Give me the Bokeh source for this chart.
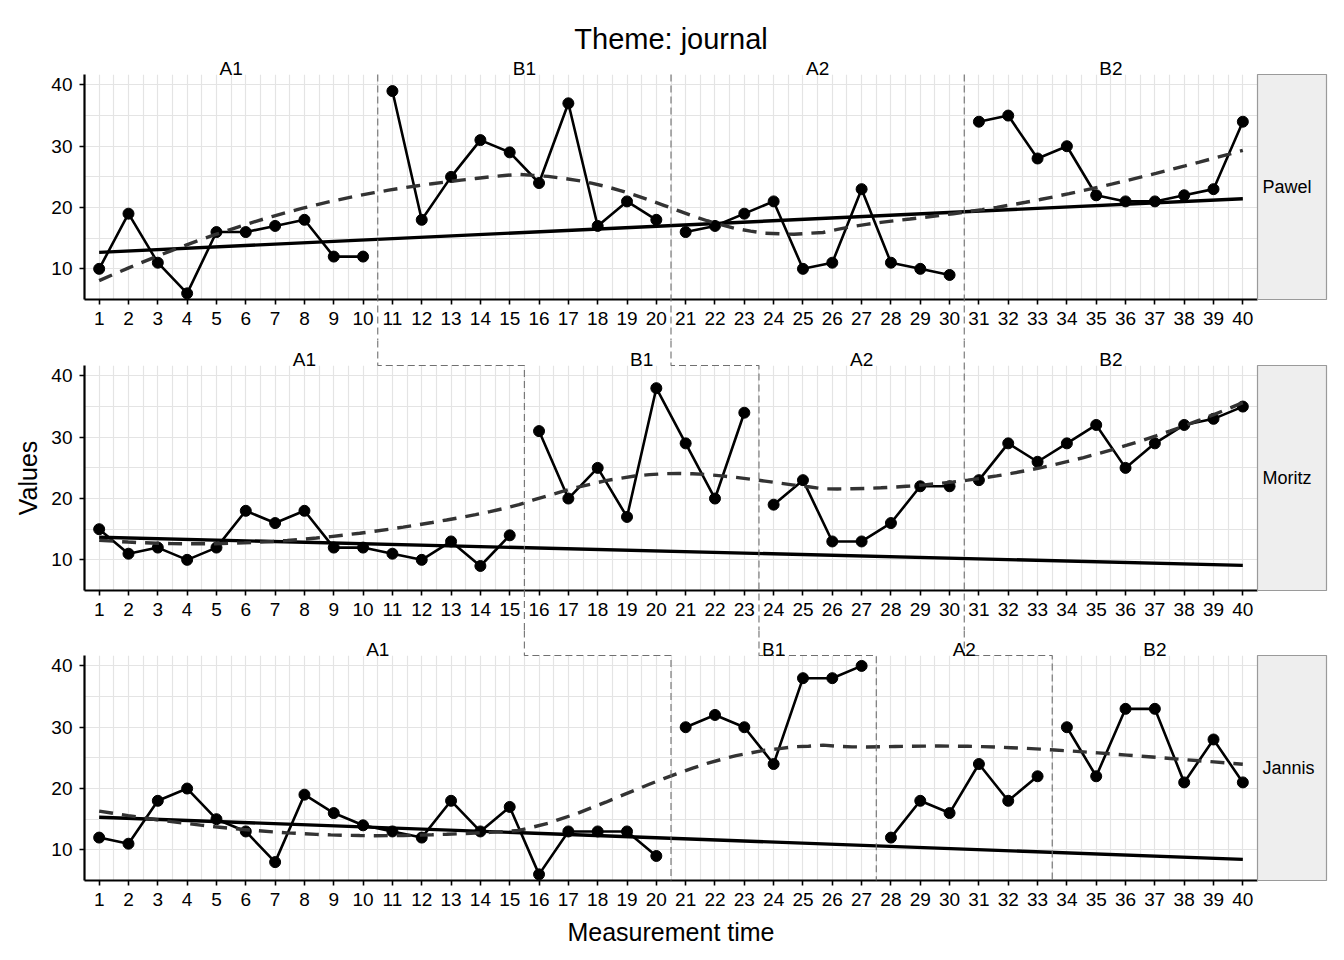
import numpy as np
from bokeh.plotting import figure
from bokeh.models import Range1d, FixedTicker
from bokeh.layouts import column
from bokeh.core.properties import value
from bokeh.embed import file_html
from bokeh.resources import INLINE

# ---------------- data ----------------
measurement_time = [1, 2, 3, 4, 5, 6, 7, 8, 9, 10, 11, 12, 13, 14, 15, 16, 17, 18, 19, 20,
                    21, 22, 23, 24, 25, 26, 27, 28, 29, 30, 31, 32, 33, 34, 35, 36, 37, 38, 39, 40]
pawel = [10, 19, 11, 6, 16, 16, 17, 18, 12, 12, 39, 18, 25, 31, 29, 24, 37, 17, 21, 18,
         16, 17, 19, 21, 10, 11, 23, 11, 10, 9, 34, 35, 28, 30, 22, 21, 21, 22, 23, 34]
moritz = [15, 11, 12, 10, 12, 18, 16, 18, 12, 12, 11, 10, 13, 9, 14, 31, 20, 25, 17, 38,
          29, 20, 34, 19, 23, 13, 13, 16, 22, 22, 23, 29, 26, 29, 32, 25, 29, 32, 33, 35]
jannis = [12, 11, 18, 20, 15, 13, 8, 19, 16, 14, 13, 12, 18, 13, 17, 6, 13, 13, 13, 9,
          30, 32, 30, 24, 38, 38, 40, 12, 18, 16, 24, 18, 22, 30, 22, 33, 33, 21, 28, 21]
case_names = ["Pawel", "Moritz", "Jannis"]
phase_names = ["A1", "B1", "A2", "B2"]
pawel_phase_starts = [1, 11, 21, 31]
moritz_phase_starts = [1, 16, 24, 31]
jannis_phase_starts = [1, 21, 28, 34]
y_ticks = [10, 20, 30, 40]
y_minor = [15, 25, 35]

case_values = [pawel, moritz, jannis]
case_starts = [pawel_phase_starts, moritz_phase_starts, jannis_phase_starts]

# ---------------- geometry / style ----------------
FONT = "Liberation Sans"
W = 1340
BL, BR = 84, 83
FH = 225
TOPS = [74, 25, 25]
BOTTOMS = [41, 40, 72]
X0, X1 = 0.5, 40.5
Y0, Y1 = 5.0, 41.7
FW = W - BL - BR
PPX = FW / (X1 - X0)
PPY = FH / (Y1 - Y0)
STRIP_W = 69
GRID = "#E4E4E4"
TICK_FS = "19px"
LABEL_FS = "19px"
STRIP_FS = "18px"
AXIS_TITLE_FS = "25px"
TITLE_FS = "29px"


def loess(x, y, x_eval, span=0.75, degree=2):
    x = np.asarray(x, float)
    y = np.asarray(y, float)
    n = len(x)
    q = int(np.floor(n * span))
    out = []
    for x0 in x_eval:
        d = np.abs(x - x0)
        rho = np.sort(d)[q - 1]
        w = np.where(d < rho, (1 - (d / rho) ** 3) ** 3, 0.0)
        X = np.vander(x - x0, degree + 1, increasing=True)
        sw = np.sqrt(w)
        beta = np.linalg.lstsq(X * sw[:, None], y * sw, rcond=None)[0]
        out.append(float(beta[0]))
    return out


def phase_slices(starts, n):
    bounds = list(starts) + [n + 1]
    return [(bounds[k] - 1, bounds[k + 1] - 1) for k in range(len(starts))]


def make_panel(i):
    name = case_names[i]
    vals = case_values[i]
    starts = case_starts[i]
    n = len(measurement_time)
    p = figure(width=W, height=TOPS[i] + FH + BOTTOMS[i],
               x_range=Range1d(X0, X1), y_range=Range1d(Y0, Y1),
               output_backend="svg", toolbar_location=None,
               min_border_left=BL, min_border_right=BR,
               min_border_top=TOPS[i], min_border_bottom=BOTTOMS[i])
    p.outline_line_color = None
    p.background_fill_color = "white"
    p.border_fill_color = "white"

    xt = FixedTicker(ticks=measurement_time,
                     minor_ticks=[t + 0.5 for t in measurement_time[:-1]])
    yt = FixedTicker(ticks=y_ticks, minor_ticks=y_minor)
    p.xaxis.ticker = xt
    p.yaxis.ticker = yt
    p.xgrid.ticker = xt
    p.ygrid.ticker = yt
    for g in (p.xgrid, p.ygrid):
        g.grid_line_color = GRID
        g.grid_line_width = 1.2
        g.minor_grid_line_color = GRID
        g.minor_grid_line_width = 1.2
    for ax in (p.xaxis, p.yaxis):
        ax.axis_line_color = "black"
        ax.axis_line_width = 2.2
        ax.major_tick_line_color = "black"
        ax.major_tick_line_width = 1.6
        ax.major_tick_out = 5
        ax.major_tick_in = 0
        ax.minor_tick_line_color = None
        ax.major_label_text_font = FONT
        ax.major_label_text_font_size = TICK_FS
        ax.major_label_text_color = "black"
        ax.axis_label_text_font = FONT
        ax.axis_label_text_font_size = AXIS_TITLE_FS
        ax.axis_label_text_font_style = "normal"
        ax.axis_label_text_color = "black"
    p.xaxis.major_label_standoff = 7
    p.yaxis.major_label_standoff = 7

    if i == 0:
        p.title.text = "Theme: journal"
        p.title.align = "center"
        p.title.text_font = FONT
        p.title.text_font_size = TITLE_FS
        p.title.text_font_style = "normal"
        p.title.text_color = "black"
        try:
            p.title.standoff = 40
        except AttributeError:
            pass
    if i == 1:
        p.yaxis.axis_label = "Values"
        p.yaxis.axis_label_standoff = 6
    if i == 2:
        p.xaxis.axis_label = "Measurement time"
        p.xaxis.axis_label_standoff = 9

    # phase separator lines (with staircase connectors between panels)
    y_top_ext = Y1 + TOPS[i] / PPY
    y_bot_ext = Y0 - BOTTOMS[i] / PPY if i < 2 else Y0
    xs, ys = [], []
    for k in range(1, len(starts)):
        b = starts[k] - 0.5
        if i == 0:
            xs.append([b, b])
            ys.append([Y1, y_bot_ext])
        else:
            bp = case_starts[i - 1][k] - 0.5
            xs.append([bp, bp, b, b])
            ys.append([y_top_ext, Y1, Y1, y_bot_ext])
    pl = p.multi_line(xs, ys, line_color="#707070", line_width=1.1, line_dash="7 4")
    pl.level = "overlay"

    # data lines per phase
    dxs, dys = [], []
    for a, b in phase_slices(starts, n):
        dxs.append(measurement_time[a:b])
        dys.append(vals[a:b])
    p.multi_line(dxs, dys, line_color="black", line_width=2.6)
    p.scatter(measurement_time, vals, size=11, color="black")

    # trend of phase A1 extended
    a, b = phase_slices(starts, n)[0]
    xa = np.array(measurement_time[a:b], float)
    ya = np.array(vals[a:b], float)
    slope, icpt = np.polyfit(xa, ya, 1)
    xl = [measurement_time[0], measurement_time[-1]]
    p.line(xl, [icpt + slope * v for v in xl], line_color="black", line_width=3.4)

    # loess smoothing (dashed)
    x_fine = list(np.linspace(measurement_time[0], measurement_time[-1], 80))
    lw = loess(measurement_time, vals, x_fine, span=0.75, degree=2)
    p.line(x_fine, lw, line_color="#333333", line_width=3.4, line_dash="14 9")

    # phase labels
    mids = [(starts[k] + ((starts[k + 1] - 1) if k + 1 < len(starts) else measurement_time[-1])) / 2
            for k in range(len(starts))]
    tl = p.text(x=mids, y=[Y1] * len(mids), text=phase_names, text_align="center",
                text_baseline="alphabetic", text_font=value(FONT), text_font_size=LABEL_FS,
                text_color="black", y_offset=-6)
    tl.level = "overlay"

    # facet strip on the right
    sq = p.quad(left=[X1], right=[X1 + STRIP_W / PPX], bottom=[Y0], top=[Y1],
                fill_color="#EEEEEE", line_color="#9A9A9A", line_width=1.2)
    sq.level = "overlay"
    st = p.text(x=[X1 + 5 / PPX], y=[(Y0 + Y1) / 2], text=[name], text_align="left",
                text_baseline="middle", text_font=value(FONT), text_font_size=STRIP_FS,
                text_color="black")
    st.level = "overlay"
    return p


panels = [make_panel(i) for i in range(3)]
layout = column(*panels, spacing=0)
open("out.html", "w").write(file_html(layout, INLINE))
